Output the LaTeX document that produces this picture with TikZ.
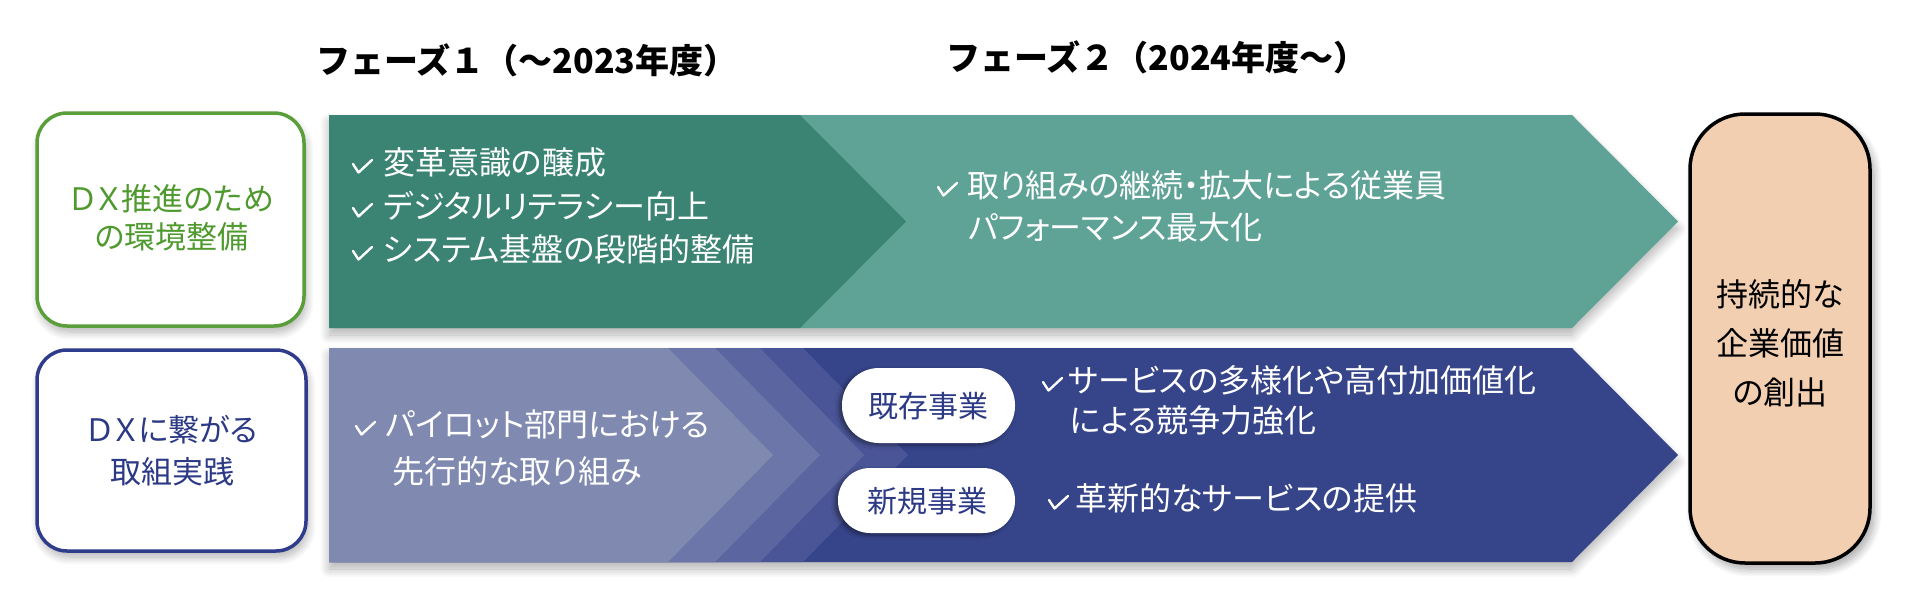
\documentclass[tikz,border=0pt]{standalone}
\usepackage{fontspec}
\setmainfont{Noto Sans CJK JP}[RawFeature=+palt]
\newfontfamily\hdrfont{Noto Sans CJK JP}
\usetikzlibrary{shadows.blur}
\definecolor{tealL}{HTML}{5FA397}
\definecolor{tealD}{HTML}{3B8474}
\definecolor{navy}{HTML}{36448A}
\definecolor{navyA}{HTML}{4A5597}
\definecolor{navyB}{HTML}{5B65A0}
\definecolor{navyC}{HTML}{6C76A8}
\definecolor{navyD}{HTML}{808AB1}
\definecolor{grn}{HTML}{5A9E3A}
\definecolor{grnT}{HTML}{4F9A2E}
\definecolor{bluB}{HTML}{2F3C8C}
\definecolor{bluT}{HTML}{2C3A86}
\definecolor{peach}{HTML}{F2CFB1}
\tikzset{
  txt/.style={inner sep=0pt, anchor=west, text=white, font=\fontsize{32}{40}\selectfont},
  hdr/.style={inner sep=0pt, font=\hdrfont\fontsize{34}{40}\selectfont\bfseries},
  sidebox/.style={line width=3.5pt, fill=white, rounded corners=30pt},
  boxshadow/.style={blur shadow={shadow xshift=2pt, shadow yshift=-6pt, shadow blur steps=10, shadow blur radius=8pt, shadow opacity=30}},
  bandshadow/.style={blur shadow={shadow xshift=0pt, shadow yshift=-7pt, shadow blur steps=12, shadow blur radius=9pt, shadow opacity=30}},
  pill/.style={fill=white, blur shadow={shadow xshift=-3pt, shadow yshift=-2pt, shadow blur steps=6, shadow blur radius=4pt, shadow opacity=45}},
  pilltxt/.style={inner sep=0pt, text=bluT, font=\fontsize{30}{36}\selectfont},
  chk/.pic={\draw[white, line width=2.4pt, line cap=round, line join=round] (1,2) -- (6.5,10.5) -- (20,-2);},
}
\begin{document}
\begin{tikzpicture}[x=1pt,y=-1pt]
\useasboundingbox (0,0) rectangle (1920,611);
% headers
\node[hdr] (h1) at (527,60) {フェーズ１（～2023年度）};
\node[hdr] (h2) at (1157,57) {フェーズ２（2024年度～）};
% left boxes
\draw[sidebox, draw=grn, boxshadow] (37,113) rectangle (304,326);
\node[inner sep=0pt, text=grnT, font=\fontsize{31}{40}\selectfont, align=center] (gtxt) at (172,218) {ＤＸ推進のため\\[-2pt]の環境整備};
\draw[sidebox, draw=bluB, boxshadow] (37,350) rectangle (306,551);
\node[inner sep=0pt, text=bluT, font=\fontsize{31}{40}\selectfont, align=center] (btxt) at (172,451) {ＤＸに繋がる\\[2pt]取組実践};
% top band
\fill[tealL, bandshadow] (329,115) -- (1572,115) -- (1678,221.5) -- (1572,328) -- (329,328) -- cycle;
\fill[tealD] (329,115) -- (800,115) -- (906,221.5) -- (800,328) -- (329,328) -- cycle;
% bottom band
\fill[navy, bandshadow] (329,348) -- (1572,348) -- (1678,455) -- (1572,562) -- (329,562) -- cycle;
\fill[navyA] (329,348) -- (803,348) -- (908,455) -- (803,562) -- (329,562) -- cycle;
\fill[navyB] (329,348) -- (760,348) -- (864,455) -- (760,562) -- (329,562) -- cycle;
\fill[navyC] (329,348) -- (715,348) -- (820,455) -- (715,562) -- (329,562) -- cycle;
\fill[navyD] (329,348) -- (668,348) -- (773,455) -- (668,562) -- (329,562) -- cycle;
% right box
\draw[line width=3.5pt, fill=peach, rounded corners=55pt, blur shadow={shadow xshift=4pt, shadow yshift=-6pt, shadow blur steps=10, shadow blur radius=8pt, shadow opacity=35}] (1690,114) rectangle (1870,563);
\node[inner sep=0pt, font=\fontsize{32}{49}\selectfont, align=center] (goal) at (1780,343) {持続的な\\企業価値\\の創出};
% top band text
\pic at (352,162) {chk};
\node[txt] (t1) at (383,162) {変革意識の醸成};
\pic at (352,206) {chk};
\node[txt] (t2) at (383,206) {デジタルリテラシー向上};
\pic at (352,249) {chk};
\node[txt] (t3) at (383,249) {システム基盤の段階的整備};
\pic at (937,185) {chk};
\node[txt] (t4) at (967,185) {取り組みの継続・拡大による従業員};
\node[txt] (t5) at (968,227) {パフォーマンス最大化};
% bottom band text
\pic at (355,424) {chk};
\node[txt] (b1) at (385,424) {パイロット部門における};
\node[txt] (b2) at (392,471) {先行的な取り組み};
\fill[pill, rounded corners=37pt] (842,368) rectangle (1015,443);
\node[pilltxt] (p1) at (928,406) {既存事業};
\fill[pill, rounded corners=32pt] (838,468) rectangle (1015,533);
\node[pilltxt] (p2) at (927,501) {新規事業};
\pic at (1042,380) {chk};
\node[txt] (b3) at (1068,380) {サービスの多様化や高付加価値化};
\node[txt] (b4) at (1070,420) {による競争力強化};
\pic at (1048,498) {chk};
\node[txt] (b5) at (1075,498) {革新的なサービスの提供};
\end{tikzpicture}
\end{document}
